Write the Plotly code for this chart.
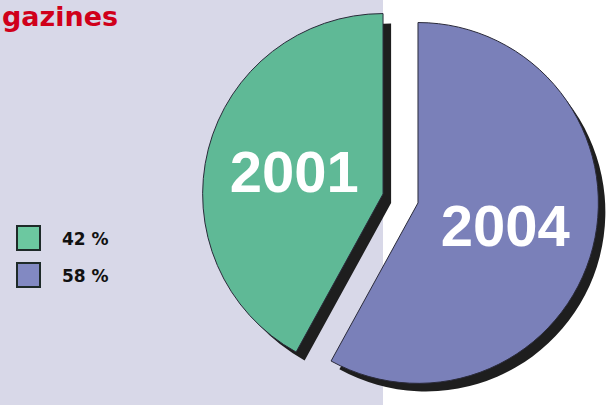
import plotly.graph_objects as go

years = ['2001', '2004']
shares = [42, 58]
slice_colors = ['#5fb996', '#7a80b9']
legend_colors = ['#6cc8a0', '#8289c2']
title_text = 'gazines'

W, H = 611, 405

# first slice sits left of 12 o'clock, second one to the right
start_angle = -360 * shares[0] / sum(shares)

fig = go.Figure()

# drop shadow behind the pie
fig.add_trace(go.Pie(
    values=shares,
    labels=years,
    sort=False,
    direction='clockwise',
    rotation=start_angle,
    pull=[0.1, 0.1],
    marker=dict(colors=['#1e1e1e', '#1e1e1e'], line=dict(width=0)),
    textinfo='none',
    hoverinfo='skip',
    showlegend=False,
    domain=dict(x=[0.3437, 0.9934], y=[0.0, 0.975]),
))

fig.add_trace(go.Pie(
    values=shares,
    labels=years,
    text=years,
    sort=False,
    direction='clockwise',
    rotation=start_angle,
    pull=[0.1, 0.1],
    marker=dict(colors=slice_colors, line=dict(color='#2a2a3a', width=1)),
    textinfo='text',
    textposition='inside',
    insidetextorientation='horizontal',
    insidetextfont=dict(family='Liberation Sans', size=58, color='white', weight='bold'),
    hoverinfo='skip',
    showlegend=False,
    domain=dict(x=[0.3306, 0.9804], y=[0.02, 1.0]),
))

shapes = [dict(
    type='rect', xref='paper', yref='paper',
    x0=0, x1=383 / W, y0=0, y1=1,
    fillcolor='#d8d8e8', line=dict(width=0), layer='below',
)]
annotations = [dict(
    text=title_text, xref='paper', yref='paper',
    x=0, y=1 - 17 / H, xanchor='left', yanchor='middle',
    showarrow=False,
    font=dict(family='DejaVu Sans', size=27, color='#d0001a', weight='bold'),
)]

# hand-made legend with big squares
for i, (v, c) in enumerate(zip(shares, legend_colors)):
    top = 226 + i * 37
    shapes.append(dict(
        type='rect', xref='paper', yref='paper',
        x0=17 / W, x1=40 / W, y0=1 - (top + 24) / H, y1=1 - top / H,
        fillcolor=c, line=dict(color='#1e2a28', width=2),
    ))
    annotations.append(dict(
        text=f'{v} %', xref='paper', yref='paper',
        x=60 / W, y=1 - (top + 13) / H, xanchor='left', yanchor='middle',
        showarrow=False,
        font=dict(family='DejaVu Sans', size=17, color='#111111', weight='bold'),
    ))

fig.update_layout(
    width=W,
    height=H,
    margin=dict(t=0, b=0, l=0, r=0),
    paper_bgcolor='white',
    plot_bgcolor='white',
    shapes=shapes,
    annotations=annotations,
)

fig.write_html("out.html", config={'displayModeBar': False},
               post_script="document.body.style.margin='0';")
